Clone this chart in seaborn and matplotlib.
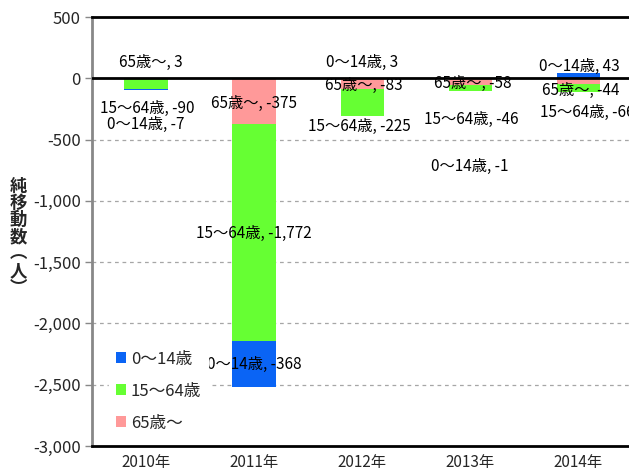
import pandas as pd
import numpy as np

import matplotlib
matplotlib.use("Agg")
import matplotlib.pyplot as plt
from matplotlib.patches import Patch
from matplotlib.ticker import FuncFormatter
import seaborn as sns

# data
years = ["2010年", "2011年", "2012年", "2013年", "2014年"]
kids = [-7, -368, 3, -1, 43]            # 0～14歳
working = [-90, -1772, -225, -46, -66]  # 15～64歳
elderly = [3, -375, -83, -58, -44]      # 65歳～
series = ["0～14歳", "15～64歳", "65歳～"]
y_ticks = list(range(-3000, 501, 500))

colors = {"0～14歳": "#0A64F5", "15～64歳": "#66FF33", "65歳～": "#FF9999"}

# where Excel put the data labels (category offset, y in data units)
label_pos = {
    (0, "65歳～"): (0.04, 130), (0, "15～64歳"): (0.01, -245), (0, "0～14歳"): (0.0, -378),
    (1, "65歳～"): (0.0, -205), (1, "15～64歳"): (0.0, -1267), (1, "0～14歳"): (0.0, -2338),
    (2, "0～14歳"): (0.0, 130), (2, "65歳～"): (0.02, -57), (2, "15～64歳"): (-0.03, -392),
    (3, "65歳～"): (0.02, -41), (3, "15～64歳"): (0.01, -335), (3, "0～14歳"): (0.0, -719),
    (4, "0～14歳"): (0.01, 98), (4, "65歳～"): (0.02, -98), (4, "15～64歳"): (0.08, -278),
}

sns.set_style("white")
plt.rcParams["font.family"] = ["Noto Sans CJK JP", "DejaVu Sans"]

df = pd.DataFrame({"year": years, "0～14歳": kids, "15～64歳": working, "65歳～": elderly})

fig = plt.figure(figsize=(6.29, 4.74), dpi=100)
fig.set_facecolor("white")
ax = fig.add_axes([0.1463, 0.059, 0.8537, 0.905])

# negatives stack down from zero: 65歳～, then 15～64歳, then 0～14歳
neg_order = ["65歳～", "15～64歳", "0～14歳"]
neg_cum = df[neg_order].clip(upper=0).cumsum(axis=1)
for name in reversed(neg_order):
    sns.barplot(x=df["year"], y=neg_cum[name], color=colors[name], width=0.4,
                saturation=1, linewidth=0, errorbar=None, ax=ax, zorder=2)

pos_order = ["0～14歳", "15～64歳", "65歳～"]
pos_cum = df[pos_order].clip(lower=0).cumsum(axis=1)
for name in reversed(pos_order):
    sns.barplot(x=df["year"], y=pos_cum[name], color=colors[name], width=0.4,
                saturation=1, linewidth=0, errorbar=None, ax=ax, zorder=2)

ax.set_xlim(-0.5, 4.47)
ax.set_ylim(-3000, 500)
ax.set_yticks(y_ticks)
ax.yaxis.set_major_formatter(FuncFormatter(lambda v, p: f"{int(v):,}"))
ax.set_xlabel("")
ax.set_ylabel("")

for v in y_ticks:
    if -3000 < v < 0:
        ax.axhline(v, color="#A6A6A6", lw=0.9, ls=(0, (3, 3)), zorder=1)
ax.axhline(0, color="black", lw=2, zorder=3)

ax.spines["right"].set_visible(False)
ax.spines["left"].set_color("#888888")
ax.spines["left"].set_linewidth(2)
ax.spines["bottom"].set_linewidth(2)
ax.spines["top"].set_linewidth(2)
ax.spines["bottom"].set_color("black")
ax.spines["top"].set_color("black")
ax.tick_params(axis="y", which="major", left=True, length=5, width=1, color="#888888",
               labelsize=12, pad=3)
ax.tick_params(axis="x", bottom=False, labelsize=11, pad=2)

for (i, name), (dx, y) in label_pos.items():
    val = df.loc[i, name]
    ax.text(i + dx, y, f"{name}, {val:,}", ha="center", va="center", fontsize=11,
            color="black", zorder=4)

handles = [Patch(facecolor=colors[s], edgecolor="none") for s in series]
leg = ax.legend(handles, series, loc="center left", bbox_to_anchor=(0.032, 0.128),
                frameon=True, fontsize=12, handlelength=0.6, handleheight=0.6,
                handletextpad=0.3, labelspacing=0.9, borderpad=0.4, borderaxespad=0)
leg.get_frame().set_facecolor("white")
leg.get_frame().set_edgecolor("white")
leg.get_frame().set_alpha(1)
leg.set_zorder(5)

fig.text(18 / 629, 237 / 474, "純\n移\n動\n数\n︵\n人\n︶", ha="center", va="center",
         fontsize=12.5, fontweight="bold", linespacing=0.92)

fig.savefig("out.png", dpi=100, facecolor="white")
